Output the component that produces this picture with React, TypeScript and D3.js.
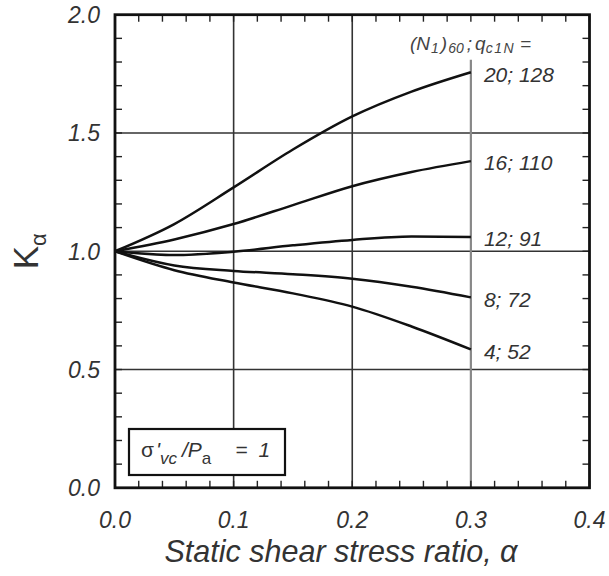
import React from "react";
import * as d3 from "d3";

const alphaTicks = [0.0, 0.1, 0.2, 0.3, 0.4];
const kTicks = [0.0, 0.5, 1.0, 1.5, 2.0];
const alphaPts = [0, 0.05, 0.1, 0.15, 0.2, 0.25, 0.3];
const curveLabels = ["20; 128", "16; 110", "12; 91", "8; 72", "4; 52"];
const k20 = [1.0, 1.115, 1.27, 1.43, 1.57, 1.675, 1.757];
const k16 = [1.0, 1.05, 1.115, 1.195, 1.275, 1.335, 1.381];
const k12 = [1.0, 0.984, 0.998, 1.025, 1.048, 1.062, 1.06];
const k8 = [1.0, 0.94, 0.917, 0.903, 0.884, 0.85, 0.805];
const k4 = [1.0, 0.92, 0.868, 0.822, 0.766, 0.682, 0.585];
const series = [k20, k16, k12, k8, k4];

const W = 609, H = 576;
const L = 115, R = 589.5, T = 14.7, B = 487.8;

export default function App() {
  const x = d3.scaleLinear().domain([0, 0.4]).range([L, R]);
  const y = d3.scaleLinear().domain([0, 2]).range([B, T]);
  const line = d3
    .line<[number, number]>()
    .x((d) => x(d[0]))
    .y((d) => y(d[1]))
    .curve(d3.curveMonotoneX);
  const xMinor = d3.range(0, 0.4001, 0.02);
  const yMinor = d3.range(0, 2.0001, 0.1);
  const font = "'Liberation Sans', Arial, Helvetica, sans-serif";
  const tick = 7;
  return (
    <svg
      width={W}
      height={H}
      style={{ position: "absolute", left: 0, top: 0, background: "#fff" }}
      fontFamily={font}
    >
      <rect x={0} y={0} width={W} height={H} fill="#fff" />
      {/* horizontal grid */}
      {[0.5, 1.0, 1.5].map((v) => (
        <line key={"h" + v} x1={L} x2={R} y1={y(v)} y2={y(v)} stroke="#333" strokeWidth={1.6} />
      ))}
      {/* vertical grid */}
      {[0.1, 0.2].map((v) => (
        <line key={"v" + v} x1={x(v)} x2={x(v)} y1={T} y2={B} stroke="#333" strokeWidth={1.6} />
      ))}
      <line x1={x(0.3)} x2={x(0.3)} y1={y(1.81)} y2={B} stroke="#888" strokeWidth={2.2} />
      {/* minor ticks */}
      {xMinor.map((v, i) => (
        <g key={"xt" + i}>
          <line x1={x(v)} x2={x(v)} y1={B} y2={B - tick} stroke="#222" strokeWidth={1.4} />
          <line x1={x(v)} x2={x(v)} y1={T} y2={T + tick} stroke="#222" strokeWidth={1.4} />
        </g>
      ))}
      {yMinor.map((v, i) => (
        <g key={"yt" + i}>
          <line x1={L} x2={L + tick} y1={y(v)} y2={y(v)} stroke="#222" strokeWidth={1.4} />
          <line x1={R} x2={R - tick} y1={y(v)} y2={y(v)} stroke="#222" strokeWidth={1.4} />
        </g>
      ))}
      {/* curves */}
      {series.map((s, i) => (
        <path
          key={"c" + i}
          d={line(alphaPts.map((a, j) => [a, s[j]] as [number, number])) || ""}
          fill="none"
          stroke="#111"
          strokeWidth={2.5}
        />
      ))}
      {/* curve labels */}
      {series.map((s, i) => (
        <text
          key={"l" + i}
          x={x(0.3) + 13}
          y={y(s[s.length - 1]) + 2}
          dy="0.35em"
          fontSize={21}
          fontStyle="italic"
          fill="#333"
        >
          {curveLabels[i]}
        </text>
      ))}
      <text x={410} y={50} fontSize={19} fontStyle="italic" fill="#444">
        (N
        <tspan fontSize={14} dy={3} dx={1}>1</tspan>
        <tspan dy={-3} dx={2}>)</tspan>
        <tspan fontSize={14} dy={3} dx={1}>60</tspan>
        <tspan dy={-3} dx={3}>;</tspan>
        <tspan dx={3}>q</tspan>
        <tspan fontSize={14} dy={3} letterSpacing={1.5}>c1N</tspan>
        <tspan dy={-3} dx={5}>=</tspan>
      </text>
      {/* frame */}
      <rect x={L} y={T} width={R - L} height={B - T} fill="none" stroke="#111" strokeWidth={2.8} />
      {/* tick labels */}
      {kTicks.map((v) => (
        <text
          key={"yl" + v}
          x={L - 15}
          y={y(v)}
          dy="0.36em"
          textAnchor="end"
          fontSize={23}
          fontStyle="italic"
          fill="#333"
        >
          {v.toFixed(1)}
        </text>
      ))}
      {alphaTicks.map((v) => (
        <text
          key={"xl" + v}
          x={x(v)}
          y={528}
          textAnchor="middle"
          fontSize={23}
          fontStyle="italic"
          fill="#333"
        >
          {v.toFixed(1)}
        </text>
      ))}
      {/* axis titles */}
      <text x={341} y={562} textAnchor="middle" fontSize={30.5} fontStyle="italic" fill="#333">
        Static shear stress ratio, α
      </text>
      <text transform={`translate(38, ${y(1.0)}) rotate(-90)`} textAnchor="middle" fill="#333">
        <tspan fontSize={35}>K</tspan>
        <tspan fontSize={22} dy={8}>α</tspan>
      </text>
      {/* annotation box */}
      <rect x={129} y={429} width={156} height={46} fill="#fff" stroke="#111" strokeWidth={2.2} />
      <text x={141} y={457} fontSize={21} fill="#333">
        σ
        <tspan fontStyle="italic" dx={2}>'</tspan>
        <tspan fontStyle="italic" fontSize={17} dy={7}>vc</tspan>
        <tspan fontStyle="italic" dy={-7} dx={5}>/P</tspan>
        <tspan fontSize={17} dy={7}>a</tspan>
        <tspan fontStyle="italic" dy={-7} dx={24}>=</tspan>
        <tspan fontStyle="italic" dx={11}>1</tspan>
      </text>
    </svg>
  );
}
